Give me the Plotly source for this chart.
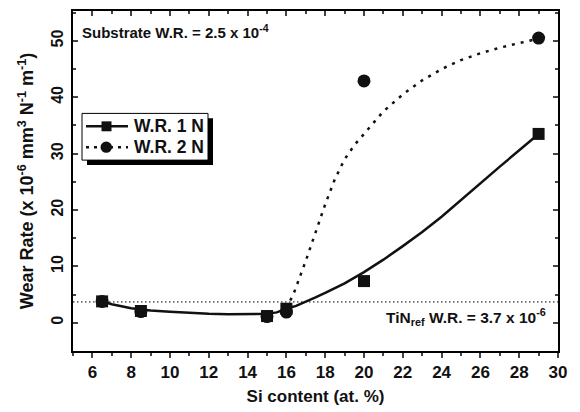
import plotly.graph_objects as go

# measured data
si = [6.5, 8.5, 15, 16, 20, 29]
wr1 = [3.8, 2.1, 1.2, 2.5, 7.4, 33.5]
wr2 = [3.8, 2.0, 1.1, 1.9, 42.9, 50.5]

# fitted curves
fit1_x = [6.5, 7, 8, 9, 10, 11, 12, 13, 14, 15, 15.5, 16, 16.5, 17, 17.5, 18, 19, 20, 21, 22, 23, 24, 25, 26, 27, 28, 29]
fit1_y = [3.8, 3.3, 2.6, 2.2, 1.95, 1.75, 1.6, 1.5, 1.5, 1.6, 1.85, 2.5, 3.0, 3.7, 4.5, 5.3, 7.0, 9.0, 11.2, 13.6, 16.1, 18.8, 21.8, 24.8, 27.7, 30.6, 33.5]
fit2_x = [16, 16.4, 17, 17.5, 18, 18.5, 19, 19.5, 20, 20.5, 21, 22, 23, 24, 25, 26, 27, 28, 29]
fit2_y = [2.5, 5.4, 11, 16, 21, 25.5, 29, 31.5, 33.5, 35.7, 37.5, 40.5, 43, 45, 46.6, 47.8, 48.8, 49.6, 50.4]

ref_x = [5, 30]
ref_y = [3.7, 3.7]

x_ticks = [6, 8, 10, 12, 14, 16, 18, 20, 22, 24, 26, 28, 30]
y_ticks = [0, 10, 20, 30, 40, 50]
legend_names = ["W.R. 1 N", "W.R. 2 N"]

FONT = "Liberation Sans, Arial, sans-serif"

W, H = 580, 412
ML, MR, MT, MB = 73, 22, 9, 61
PW, PH = W - ML - MR, H - MT - MB


def px(xp):
    return (xp - ML) / PW


def py(yp):
    return (H - MB - yp) / PH


fig = go.Figure()
fig.add_trace(go.Scatter(x=ref_x, y=ref_y, mode="lines", showlegend=False,
                         line=dict(color="black", width=1, dash="1.5px,2.5px")))
fig.add_trace(go.Scatter(x=fit2_x, y=fit2_y, mode="lines", showlegend=False,
                         line=dict(color="#111", width=2.5, dash="3px,6px")))
fig.add_trace(go.Scatter(x=fit1_x, y=fit1_y, mode="lines", showlegend=False,
                         line=dict(color="#111", width=2.5)))
fig.add_trace(go.Scatter(x=si, y=wr2, mode="markers", showlegend=False, name=legend_names[1],
                         marker=dict(symbol="circle", size=13, color="#111")))
fig.add_trace(go.Scatter(x=si, y=wr1, mode="markers", showlegend=False, name=legend_names[0],
                         marker=dict(symbol="square", size=12, color="#111")))
# invisible trace for top axis
fig.add_trace(go.Scatter(x=[None], y=[None], xaxis="x2", showlegend=False))

# custom legend box (with drop shadow) built from shapes
lx0, lx1, ly0, ly1 = 82, 208, 112, 159
sh = 5
shapes = [
    dict(type="rect", xref="paper", yref="paper", x0=px(lx0 + sh), x1=px(lx1 + sh),
         y0=py(ly1 + sh), y1=py(ly0 + sh), fillcolor="black", line=dict(width=0), layer="above"),
    dict(type="rect", xref="paper", yref="paper", x0=px(lx0), x1=px(lx1),
         y0=py(ly1), y1=py(ly0), fillcolor="white", line=dict(color="black", width=1), layer="above"),
    dict(type="line", xref="paper", yref="paper", x0=px(86), x1=px(128), y0=py(125), y1=py(125),
         line=dict(color="#111", width=2.5), layer="above"),
    dict(type="rect", xref="paper", yref="paper", x0=px(101.5), x1=px(111.5), y0=py(130), y1=py(120),
         fillcolor="#111", line=dict(width=0), layer="above"),
    dict(type="line", xref="paper", yref="paper", x0=px(86), x1=px(128), y0=py(146), y1=py(146),
         line=dict(color="#111", width=2.5, dash="3px,5px"), layer="above"),
    dict(type="circle", xref="paper", yref="paper", x0=px(100.5), x1=px(112), y0=py(151.7), y1=py(140.3),
         fillcolor="#111", line=dict(width=0), layer="above"),
]

annotations = [
    dict(text="<b>Substrate W.R. = 2.5 x 10<sup>-4</sup></b>", xref="paper", yref="paper",
         x=0.015, y=0.975, xanchor="left", yanchor="top", showarrow=False,
         font=dict(size=15)),
    dict(text="<b>TiN<sub>ref</sub> W.R. = 3.7 x 10<sup>-6</sup></b>", xref="paper", yref="paper",
         x=0.98, y=0.10, xanchor="right", yanchor="middle", showarrow=False,
         font=dict(size=15.5)),
    dict(text="<b>" + legend_names[0] + "</b>", xref="paper", yref="paper", x=px(132), y=py(125),
         xanchor="left", yanchor="middle", showarrow=False, font=dict(size=17.5)),
    dict(text="<b>" + legend_names[1] + "</b>", xref="paper", yref="paper", x=px(132), y=py(146),
         xanchor="left", yanchor="middle", showarrow=False, font=dict(size=17.5)),
]

fig.update_layout(
    width=W, height=H,
    margin=dict(l=ML, r=MR, t=MT, b=MB),
    paper_bgcolor="white", plot_bgcolor="white", showlegend=False,
    font=dict(family=FONT, color="#111", size=14),
    xaxis=dict(range=[5, 30], tickvals=x_ticks, ticks="outside", ticklen=5, tickwidth=2,
               minor=dict(dtick=1, ticks="outside", ticklen=3, tickwidth=2, tick0=5),
               showline=True, linecolor="black", linewidth=2, mirror=True,
               showgrid=False, zeroline=False,
               tickfont=dict(size=17, family=FONT, weight="bold"),
               title=dict(text="<b>Si content (at. %)</b>", font=dict(size=17), standoff=9)),
    xaxis2=dict(range=[5, 30], overlaying="x", side="top", tickvals=x_ticks, ticks="inside",
                ticklen=5, tickwidth=2, showticklabels=False,
                minor=dict(dtick=1, ticks="inside", ticklen=3, tickwidth=2, tick0=5),
                showgrid=False, zeroline=False, showline=False),
    yaxis=dict(range=[-5, 55.3], tickvals=y_ticks, ticks="inside", ticklen=5, tickwidth=2,
               minor=dict(dtick=5, ticks="inside", ticklen=3, tickwidth=2, tick0=-5),
               showline=True, linecolor="black", linewidth=2, mirror="ticks",
               showgrid=False, zeroline=False, tickangle=-90, ticklabelstandoff=2,
               tickfont=dict(size=16, family=FONT, weight="bold"),
               title=dict(text="<b>Wear Rate (x 10<sup>-6</sup> mm<sup>3</sup> N<sup>-1</sup> m<sup>-1</sup>)</b>",
                          font=dict(size=18), standoff=10)),
    shapes=shapes,
    annotations=annotations,
)

fig.write_html("out.html")
